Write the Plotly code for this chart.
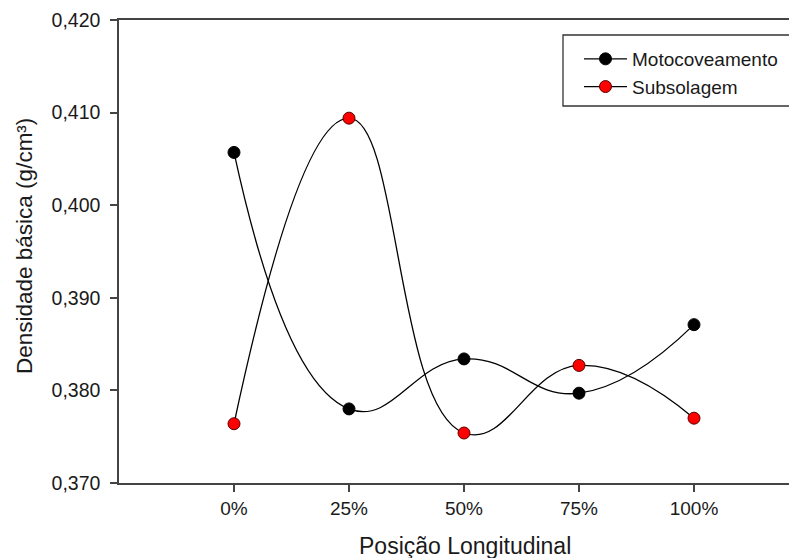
import plotly.graph_objects as go

categories = ["0%", "25%", "50%", "75%", "100%"]
positions = [1, 2, 3, 4, 5]
motocoveamento = [0.4057, 0.3780, 0.3834, 0.3797, 0.3871]
subsolagem = [0.3764, 0.4094, 0.3754, 0.3827, 0.3770]
y_ticks = [0.370, 0.380, 0.390, 0.400, 0.410, 0.420]

OFF = 8  # page body margin
W, H = 797 - OFF, 558 - OFF
L, T, B, R = 119 - OFF, 20 - OFF, 75, 0
pw, ph = W - L - R, H - T - B


def px(xpix):
    return (xpix - OFF - L) / pw


def py(ypix):
    return (H - B - (ypix - OFF)) / ph


fig = go.Figure()
fig.add_trace(go.Scatter(
    x=positions, y=motocoveamento, name="Motocoveamento",
    mode="lines+markers", line=dict(color="black", width=1.3, shape="spline", smoothing=1.3),
    marker=dict(size=12, color="black", line=dict(color="black", width=1)),
))
fig.add_trace(go.Scatter(
    x=positions, y=subsolagem, name="Subsolagem",
    mode="lines+markers", line=dict(color="black", width=1.3, shape="spline", smoothing=1.3),
    marker=dict(size=12, color="#ff0000", line=dict(color="#5a0000", width=1)),
))

font = "Liberation Sans, Arial, sans-serif"
fig.update_layout(
    width=W, height=H,
    margin=dict(l=L, r=R, t=T, b=B),
    paper_bgcolor="white", plot_bgcolor="white",
    separators=",.",
    font=dict(family=font, color="#1a1a1a", size=19),
    showlegend=True,
    legend=dict(
        x=px(579), y=py(40), xanchor="left", yanchor="top",
        bgcolor="rgba(0,0,0,0)", borderwidth=0,
        font=dict(family=font, size=19, color="#1a1a1a"),
        itemwidth=43, tracegroupgap=0,
    ),
    xaxis=dict(
        range=[0, pw / 115.0], tickvals=positions, ticktext=categories,
        showgrid=False, zeroline=False, showline=True, linecolor="#444444", linewidth=1.5,
        mirror=True, ticks="outside", ticklen=7, tickcolor="#444444", tickwidth=1.5,
        tickfont=dict(size=19),
    ),
    yaxis=dict(
        range=[0.370, 0.420], tickvals=y_ticks, tickformat=".3f",
        showgrid=False, zeroline=False, showline=True, linecolor="#444444", linewidth=1.5,
        ticks="outside", ticklen=7, tickcolor="#444444", tickwidth=1.5,
        tickfont=dict(size=19.5), ticklabelstandoff=6,
    ),
    shapes=[dict(
        type="rect", xref="paper", yref="paper",
        x0=px(563), x1=1.06,
        y0=py(106), y1=py(35),
        line=dict(color="#333333", width=1.3), fillcolor="rgba(0,0,0,0)",
    )],
    annotations=[
        dict(text="Posição Longitudinal", xref="paper", yref="paper",
             x=px(465), y=py(546), xanchor="center", yanchor="middle",
             showarrow=False, font=dict(size=23, family=font, color="#1a1a1a")),
        dict(text="Densidade básica (g/cm³)", xref="paper", yref="paper",
             x=px(24), y=py(246), xanchor="center", yanchor="middle", textangle=-90,
             showarrow=False, font=dict(size=22.5, family=font, color="#1a1a1a")),
    ],
)

fig.write_html("out.html")
